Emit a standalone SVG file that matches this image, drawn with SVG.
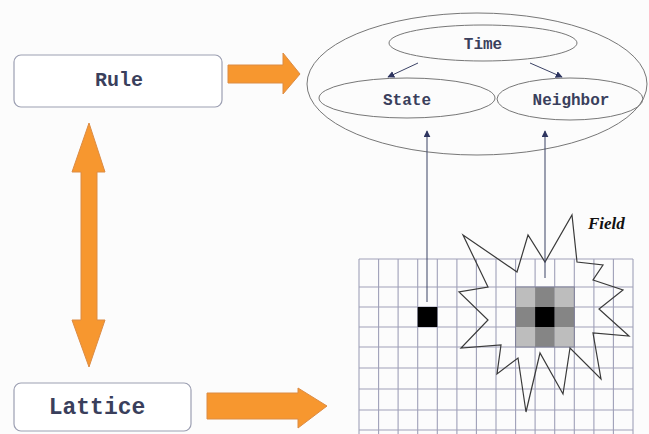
<svg xmlns="http://www.w3.org/2000/svg" width="649" height="434" viewBox="0 0 649 434">
<style>
.box{fill:#ffffff;stroke:#9c9fb2;stroke-width:1.2}
.lbl{font-family:"Liberation Mono",monospace;font-weight:bold;fill:#3a3f5c;text-anchor:middle}
.ell{fill:none;stroke:#777777;stroke-width:1}
.orange{fill:#f7972f;stroke:#dc8c45;stroke-width:1}
.grid line{stroke:#9fa0b8;stroke-width:1.1}
.conn{stroke:#3b4265;stroke-width:1;fill:none}
</style>
<defs>
<marker id="ah" viewBox="0 0 10 10" refX="9" refY="5" markerWidth="7" markerHeight="7" orient="auto" markerUnits="userSpaceOnUse">
<path d="M0,0 L10,5 L0,10 z" fill="#2e3560"/>
</marker>
</defs>
<rect width="649" height="434" fill="#fcfcfc"/>

<g id="rule">
<rect class="box" x="14" y="55" width="208" height="52" rx="7"/>
<text class="lbl" x="119" y="86" font-size="20">Rule</text>
</g>

<g id="lattice">
<rect class="box" x="14" y="383" width="177" height="48" rx="7"/>
<text class="lbl" x="97" y="414" font-size="23">Lattice</text>
</g>

<g id="model">
<ellipse class="ell" cx="477" cy="84" rx="170" ry="71"/>
</g>
<g id="time">
<ellipse class="ell" cx="483" cy="43" rx="94" ry="18"/>
<text class="lbl" x="483" y="49" font-size="16">Time</text>
</g>
<g id="state">
<ellipse class="ell" cx="407" cy="98" rx="88" ry="20"/>
<text class="lbl" x="407" y="105" font-size="16">State</text>
</g>
<g id="neighbor">
<ellipse class="ell" cx="570" cy="99" rx="73" ry="21"/>
<text class="lbl" x="571" y="105" font-size="16">Neighbor</text>
</g>

<g id="field">
<g class="grid">
<line x1="359" y1="259" x2="633" y2="259"/>
<line x1="359" y1="287" x2="633" y2="287"/>
<line x1="359" y1="307" x2="633" y2="307"/>
<line x1="359" y1="327" x2="633" y2="327"/>
<line x1="359" y1="347" x2="633" y2="347"/>
<line x1="359" y1="368" x2="633" y2="368"/>
<line x1="359" y1="389" x2="633" y2="389"/>
<line x1="359" y1="410" x2="633" y2="410"/>
<line x1="359" y1="430" x2="633" y2="430"/>
<line x1="359" y1="259" x2="359" y2="434"/>
<line x1="378.6" y1="259" x2="378.6" y2="434"/>
<line x1="398.1" y1="259" x2="398.1" y2="434"/>
<line x1="417.7" y1="259" x2="417.7" y2="434"/>
<line x1="437.3" y1="259" x2="437.3" y2="434"/>
<line x1="456.9" y1="259" x2="456.9" y2="434"/>
<line x1="476.4" y1="259" x2="476.4" y2="434"/>
<line x1="496" y1="259" x2="496" y2="434"/>
<line x1="515.6" y1="259" x2="515.6" y2="434"/>
<line x1="535.1" y1="259" x2="535.1" y2="434"/>
<line x1="554.7" y1="259" x2="554.7" y2="434"/>
<line x1="574.3" y1="259" x2="574.3" y2="434"/>
<line x1="593.9" y1="259" x2="593.9" y2="434"/>
<line x1="613.4" y1="259" x2="613.4" y2="434"/>
<line x1="633" y1="259" x2="633" y2="434"/>
</g>
<rect x="417.7" y="307" width="19.6" height="20" fill="#000"/>
<rect x="515.6" y="287" width="19.5" height="20" fill="#bdbdbd"/>
<rect x="535.1" y="287" width="19.6" height="20" fill="#858585"/>
<rect x="554.7" y="287" width="19.6" height="20" fill="#bdbdbd"/>
<rect x="515.6" y="307" width="19.5" height="20" fill="#858585"/>
<rect x="535.1" y="307" width="19.6" height="20" fill="#000"/>
<rect x="554.7" y="307" width="19.6" height="20" fill="#858585"/>
<rect x="515.6" y="327" width="19.5" height="20" fill="#bdbdbd"/>
<rect x="535.1" y="327" width="19.6" height="20" fill="#858585"/>
<rect x="554.7" y="327" width="19.6" height="20" fill="#bdbdbd"/>
<g fill="none" stroke="#7d7e96" stroke-width="1">
<rect x="515.6" y="287" width="58.7" height="60"/>
</g>
<polygon points="572,215 577,262 603,265 593,280 623,290 599,309 629,336 593,333 601,379 570,348 563,394 540,353 526,412 518,358 497,374 501,345 461,348 488,320 459,292 488,287 463,235 517,272 528,235 545,262" fill="none" stroke="#3a3a3a" stroke-width="1.2" stroke-linejoin="miter"/>
<text x="588" y="229" font-family="Liberation Serif,serif" font-weight="bold" font-style="italic" font-size="17" fill="#111">Field</text>
</g>

<g id="connectors">
<path class="orange" d="M228,65 H283 V53 L300,74 L283,94 V83 H228 Z"/>
<path class="orange" d="M207,393 H298 V388 L327,406 L298,428 V419 H207 Z"/>
<path class="orange" d="M89,123 L105,172 H97 V320 H105 L89,367 L72,320 H81 V172 H72 Z"/>
<line class="conn" x1="418" y1="63" x2="388" y2="77" marker-end="url(#ah)"/>
<line class="conn" x1="530" y1="63" x2="562" y2="77" marker-end="url(#ah)"/>
<line class="conn" x1="427" y1="302" x2="427" y2="131" marker-end="url(#ah)"/>
<line class="conn" x1="545" y1="278" x2="545" y2="131" marker-end="url(#ah)"/>
</g>
</svg>
